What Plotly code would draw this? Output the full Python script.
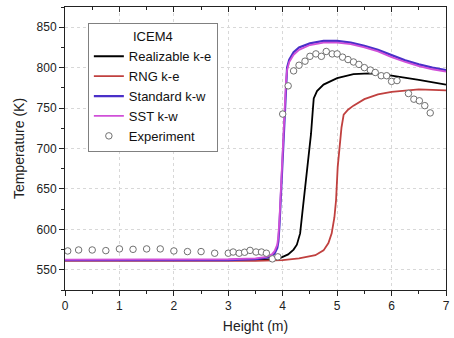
import plotly.graph_objects as go

# Realizable k-e (black)
rke_x = [0, 1, 2, 3, 3.5, 3.8, 3.95, 4.1, 4.2, 4.26, 4.32, 4.36, 4.40, 4.44, 4.48, 4.52, 4.55, 4.57, 4.63, 4.75, 5.0, 5.3, 5.6, 6.0, 6.5, 7.0]
rke_y = [562, 562, 562, 562, 562, 563, 564.5, 569, 575, 581, 595, 620, 645, 665, 690, 718, 745, 762, 771, 779, 787, 792, 793, 790, 785, 779]

# RNG k-e (red)
rng_x = [0, 1, 2, 3, 3.5, 4.0, 4.3, 4.6, 4.75, 4.84, 4.9, 4.95, 4.98, 5.01, 5.04, 5.08, 5.12, 5.2, 5.3, 5.5, 5.75, 6.0, 6.5, 7.0]
rng_y = [561, 561, 561, 561, 561, 562, 564, 568, 574, 583, 595, 615, 636, 677, 700, 726, 742, 748, 753, 761, 767, 770, 773, 772]

# Standard k-w (blue)
skw_x = [0, 1, 2, 3, 3.5, 3.7, 3.8, 3.85, 3.9, 3.92, 3.94, 3.96, 3.98, 4.0, 4.02, 4.04, 4.06, 4.08, 4.12, 4.2, 4.3, 4.5, 4.75, 5.0, 5.25, 5.5, 5.75, 6.0, 6.25, 6.5, 6.75, 7.0]
skw_y = [562, 562, 562, 562, 563, 565, 567, 570, 577, 585, 605, 635, 665, 700, 730, 760, 785, 800, 810, 819, 825, 830, 833, 833, 831, 827, 822, 815, 809, 804, 800, 797]

# SST k-w (magenta)
sst_x = [0, 1, 2, 3, 3.5, 3.7, 3.8, 3.85, 3.9, 3.92, 3.94, 3.96, 3.98, 4.0, 4.02, 4.04, 4.06, 4.08, 4.12, 4.2, 4.3, 4.5, 4.75, 5.0, 5.25, 5.5, 5.75, 6.0, 6.25, 6.5, 6.75, 7.0]
sst_y = [562.5, 562.5, 562.5, 563, 564, 566, 569, 573, 581, 592, 612, 640, 672, 705, 733, 760, 783, 797, 807, 816, 822, 828, 831, 831, 829, 825, 820, 813, 807, 802, 798, 795]

# Experiment (open circles)
exp_x = [0.05, 0.25, 0.5, 0.75, 1.0, 1.25, 1.5, 1.75, 2.0, 2.25, 2.5, 2.75, 3.0, 3.09, 3.2, 3.3, 3.4, 3.51, 3.61, 3.7, 3.81, 3.91,
         4.0, 4.1, 4.2, 4.3, 4.41, 4.5, 4.61, 4.71, 4.8, 4.91, 5.0, 5.1, 5.2, 5.3, 5.4, 5.5, 5.61, 5.7, 5.81, 5.91, 6.0, 6.1,
         6.31, 6.41, 6.51, 6.61, 6.71]
exp_y = [573.3, 574.5, 574.5, 573.7, 575.8, 575.3, 575.8, 575.8, 573.3, 572.5, 572.5, 570.5, 570.5, 572, 570.5, 571.7, 574, 572, 572, 570.5, 563.5, 566,
         742.6, 777.5, 796, 803, 808, 814, 817, 814, 820, 817, 817, 813, 810, 807, 804, 800, 797, 794, 790, 790, 783, 784,
         768, 761, 759, 753, 744]

x_ticks = [0, 1, 2, 3, 4, 5, 6, 7]
y_ticks = [550, 600, 650, 700, 750, 800, 850]

font_family = "Liberation Sans, Arial, sans-serif"

fig = go.Figure()
fig.add_trace(go.Scatter(x=rke_x, y=rke_y, mode="lines", name="Realizable k-e",
                         line=dict(color="#000000", width=1.8)))
fig.add_trace(go.Scatter(x=rng_x, y=rng_y, mode="lines", name="RNG k-e",
                         line=dict(color="#c0403f", width=1.8)))
fig.add_trace(go.Scatter(x=skw_x, y=skw_y, mode="lines", name="Standard k-w",
                         line=dict(color="#4a2fc8", width=2.2)))
fig.add_trace(go.Scatter(x=sst_x, y=sst_y, mode="lines", name="SST k-w",
                         line=dict(color="#d050d8", width=1.8)))
fig.add_trace(go.Scatter(x=exp_x, y=exp_y, mode="markers", name="Experiment",
                         marker=dict(symbol="circle", size=6.5, color="white",
                                     line=dict(color="#707070", width=1))))
# helper trace for the top axis (no data)
fig.add_trace(go.Scatter(x=[None], y=[None], xaxis="x2", showlegend=False,
                         hoverinfo="skip", mode="lines"))

fig.update_layout(
    template="none",
    width=454, height=338,
    margin=dict(l=65, r=8, t=7, b=48, autoexpand=False),
    paper_bgcolor="white", plot_bgcolor="white",
    font=dict(family=font_family, size=13, color="#222"),
    showlegend=True,
    legend=dict(
        x=0.06, y=0.942, xanchor="left", yanchor="top",
        bordercolor="#808080", borderwidth=1, bgcolor="white",
        font=dict(size=13, color="#111"),
        title=dict(text="ICEM4", side="top center", font=dict(size=13, color="#111")),
        tracegroupgap=0, itemwidth=30,
    ),
    xaxis=dict(
        automargin=False,
        range=[0, 7], tickvals=x_ticks, ticks="outside", ticklen=5, tickwidth=1,
        tickcolor="#222", showline=True, linecolor="#222", linewidth=1, mirror=True,
        showgrid=True, gridcolor="#d8d8d8", griddash="dot", gridwidth=1, zeroline=False,
        ticklabeloverflow="allow",
        minor=dict(dtick=0.5, ticks="outside", ticklen=3, tickcolor="#222", showgrid=False),
        title=dict(text="Height (m)", font=dict(size=14, color="#222"), standoff=8),
        tickfont=dict(size=12, color="#222"),
    ),
    xaxis2=dict(
        automargin=False,
        overlaying="x", side="top", matches="x", range=[0, 7], tickvals=x_ticks,
        ticks="inside", ticklen=5, tickcolor="#222", showticklabels=False,
        showgrid=False, zeroline=False, showline=False,
        minor=dict(dtick=0.5, ticks="inside", ticklen=3, tickcolor="#222"),
    ),
    yaxis=dict(
        automargin=False,
        range=[525, 875], tickvals=y_ticks, ticks="outside", ticklen=5, tickwidth=1,
        tickcolor="#222", showline=True, linecolor="#222", linewidth=1, mirror=True,
        showgrid=True, gridcolor="#d8d8d8", griddash="dot", gridwidth=1, zeroline=False,
        minor=dict(dtick=25, ticks="outside", ticklen=3, tickcolor="#222", showgrid=False),
        title=dict(text="Temperature (K)", font=dict(size=14, color="#222"), standoff=8),
        tickfont=dict(size=12, color="#222"),
    ),
)

fig.write_html("out.html",
               config={"displayModeBar": False},
               post_script="document.body.style.margin='0';document.body.style.padding='0';")
